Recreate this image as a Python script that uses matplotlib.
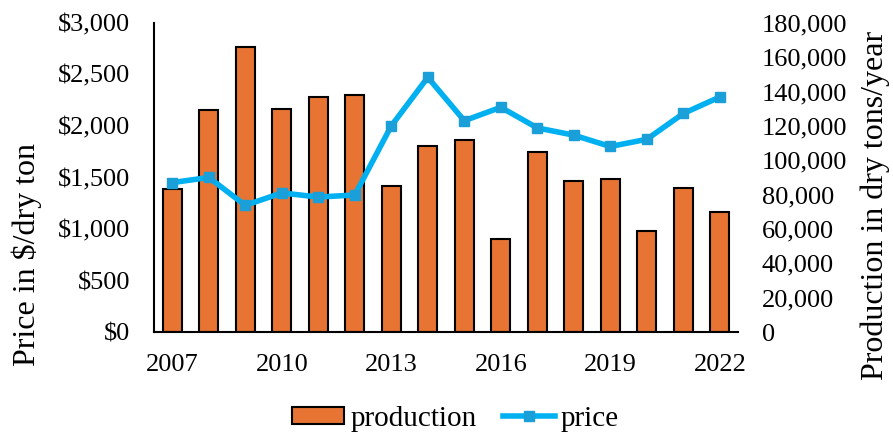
import matplotlib.pyplot as plt
from matplotlib.ticker import FuncFormatter

years = list(range(2007, 2023))
production = [83000, 129000, 166000, 130000, 137000, 138000, 85000, 108000,
              112000, 54000, 105000, 88000, 89000, 59000, 84000, 70000]
price = [1450, 1500, 1230, 1350, 1310, 1330, 2000, 2470,
         2050, 2180, 1980, 1910, 1800, 1870, 2120, 2280]
tick_years = [2007, 2010, 2013, 2016, 2019, 2022]

plt.rcParams["font.family"] = ["Liberation Serif", "DejaVu Serif"]

fig = plt.figure(figsize=(8.93, 4.36), dpi=100)
ax = fig.add_axes([0.1725, 0.238, 0.654, 0.71])
ax2 = ax.twinx()

x = list(range(len(years)))
bars = ax2.bar(x, production, width=0.52, color="#E87433",
               edgecolor="black", linewidth=1.5, label="production")
line, = ax.plot(x, price, color="#00B0F0", linewidth=4, marker="s",
                markersize=7.5, markerfacecolor="#1A9FD9",
                markeredgecolor="#1A9FD9", label="price")

# line on top of the bars
ax.set_zorder(ax2.get_zorder() + 1)
ax.patch.set_visible(False)

ax.set_xlim(-0.5, len(years) - 0.5)
ax.set_ylim(0, 3000)
ax2.set_ylim(0, 180000)
ax.set_yticks(range(0, 3001, 500))
ax2.set_yticks(range(0, 180001, 20000))
ax.yaxis.set_major_formatter(FuncFormatter(lambda v, p: f"${v:,.0f}"))
ax2.yaxis.set_major_formatter(FuncFormatter(lambda v, p: f"{v:,.0f}"))
ax.set_xticks([years.index(y) for y in tick_years])
ax.set_xticklabels([str(y) for y in tick_years])

for a in (ax, ax2):
    a.tick_params(length=0, labelsize=19, pad=17)
    for s in ("top", "right"):
        a.spines[s].set_visible(False)
    a.spines["left"].set_linewidth(1.5)
    a.spines["bottom"].set_linewidth(1.5)
ax2.spines["left"].set_visible(False)
ax2.spines["bottom"].set_visible(False)
ax.tick_params(axis="x", pad=16)

ax.set_ylabel("Price in $/dry ton", fontsize=23)
ax.yaxis.set_label_coords(-0.192, 0.25)
ax2.set_ylabel("Production in dry tons/year", fontsize=23)
ax2.yaxis.set_label_coords(1.21, 0.41)

fig.legend(handles=[bars, line], loc="center", ncol=2, frameon=False,
           fontsize=21, bbox_to_anchor=(0.51, 0.04), handlelength=1.8,
           handleheight=0.5, columnspacing=0.9, handletextpad=0.2)

fig.savefig("out.png", dpi=100)
